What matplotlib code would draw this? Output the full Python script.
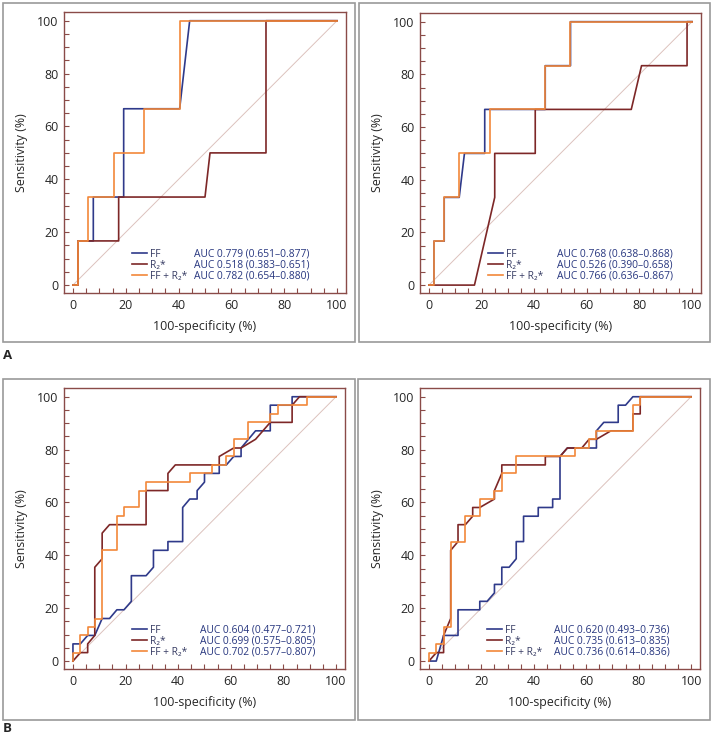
import matplotlib
matplotlib.use("Agg")
import matplotlib.pyplot as plt
from matplotlib.patches import Rectangle
from matplotlib.lines import Line2D
from matplotlib.ticker import MultipleLocator

plt.rcParams["font.family"] = ["Open Sans", "DejaVu Sans"]

series_names = ["FF", "R₂*", "FF + R₂*"]
series_colors = ["#2f3a8a", "#7d2727", "#f2883a"]

# panel A, left
a1_ff_x = [0, 1.9, 1.9, 7.7, 7.7, 19.2, 19.2, 40.4, 44.2, 100]
a1_ff_y = [0, 0, 16.7, 16.7, 33.3, 33.3, 66.7, 66.7, 100, 100]
a1_r2_x = [0, 1.9, 1.9, 17.3, 17.3, 50.0, 51.9, 73.1, 73.1, 100]
a1_r2_y = [0, 0, 16.7, 16.7, 33.3, 33.3, 50.0, 50.0, 100, 100]
a1_cb_x = [0, 1.9, 1.9, 5.8, 5.8, 15.4, 15.4, 26.9, 26.9, 40.4, 40.4, 100]
a1_cb_y = [0, 0, 16.7, 16.7, 33.3, 33.3, 50.0, 50.0, 66.7, 66.7, 100, 100]
a1_auc = ["AUC 0.779 (0.651–0.877)", "AUC 0.518 (0.383–0.651)", "AUC 0.782 (0.654–0.880)"]

# panel A, right
a2_ff_x = [0, 1.9, 1.9, 5.8, 5.8, 11.5, 13.5, 21.2, 21.2, 44.2, 44.2, 53.8, 53.8, 100]
a2_ff_y = [0, 0, 16.7, 16.7, 33.3, 33.3, 50.0, 50.0, 66.7, 66.7, 83.3, 83.3, 100, 100]
a2_r2_x = [0, 17.3, 25.0, 25.0, 40.4, 40.4, 76.9, 80.8, 98.1, 98.1, 100]
a2_r2_y = [0, 0, 33.3, 50.0, 50.0, 66.7, 66.7, 83.3, 83.3, 100, 100]
a2_cb_x = [0, 1.9, 1.9, 5.8, 5.8, 11.5, 11.5, 23.1, 23.1, 44.2, 44.2, 53.8, 53.8, 100]
a2_cb_y = [0, 0, 16.7, 16.7, 33.3, 33.3, 50.0, 50.0, 66.7, 66.7, 83.3, 83.3, 100, 100]
a2_auc = ["AUC 0.768 (0.638–0.868)", "AUC 0.526 (0.390–0.658)", "AUC 0.766 (0.636–0.867)"]

# panel B, left
b1_ff_x = [0, 0, 2.8, 5.6, 8.3, 11.1, 13.9, 16.7, 19.4, 22.2, 22.2, 27.8, 30.6, 30.6, 36.1, 36.1,
           41.7, 41.7, 44.4, 47.2, 47.2, 50.0, 50.0, 55.6, 55.6, 58.3, 61.1, 63.9, 63.9, 69.4,
           75.0, 75.0, 83.3, 83.3, 100]
b1_ff_y = [0, 6.5, 6.5, 9.7, 9.7, 16.1, 16.1, 19.4, 19.4, 22.6, 32.3, 32.3, 35.5, 41.9, 41.9, 45.2,
           45.2, 58.1, 61.3, 61.3, 64.5, 67.7, 71.0, 71.0, 74.2, 74.2, 77.4, 77.4, 80.6, 87.1,
           87.1, 96.8, 96.8, 100, 100]
b1_r2_x = [0, 2.8, 5.6, 5.6, 8.3, 8.3, 11.1, 11.1, 13.9, 27.8, 27.8, 36.1, 36.1, 38.9, 55.6, 55.6,
           61.1, 63.9, 69.4, 75.0, 83.3, 83.3, 86.1, 100]
b1_r2_y = [0, 3.2, 3.2, 6.5, 9.7, 35.5, 38.7, 48.4, 51.6, 51.6, 64.5, 64.5, 71.0, 74.2, 74.2, 77.4,
           80.6, 80.6, 83.9, 90.3, 90.3, 96.8, 100, 100]
b1_cb_x = [0, 0, 2.8, 2.8, 5.6, 5.6, 8.3, 8.3, 11.1, 11.1, 16.7, 16.7, 19.4, 19.4, 25.0, 25.0, 27.8,
           27.8, 44.4, 44.4, 52.8, 52.8, 58.3, 58.3, 61.1, 61.1, 66.7, 66.7, 75.0, 75.0, 77.8, 77.8,
           88.9, 88.9, 100]
b1_cb_y = [0, 3.2, 3.2, 9.7, 9.7, 12.9, 12.9, 16.1, 16.1, 41.9, 41.9, 54.8, 54.8, 58.1, 58.1, 64.5,
           64.5, 67.7, 67.7, 71.0, 71.0, 74.2, 74.2, 77.4, 77.4, 83.9, 83.9, 90.3, 90.3, 93.5, 93.5,
           96.8, 96.8, 100, 100]
b1_auc = ["AUC 0.604 (0.477–0.721)", "AUC 0.699 (0.575–0.805)", "AUC 0.702 (0.577–0.807)"]

# panel B, right
b2_ff_x = [0, 2.8, 5.6, 11.1, 11.1, 19.4, 19.4, 22.2, 25.0, 25.0, 27.8, 27.8, 30.6, 33.3, 33.3,
           36.1, 36.1, 41.7, 41.7, 47.2, 47.2, 50.0, 50.0, 52.8, 63.9, 63.9, 66.7, 72.2, 72.2,
           75.0, 77.8, 100]
b2_ff_y = [0, 0, 9.7, 9.7, 19.4, 19.4, 22.6, 22.6, 25.8, 29.0, 29.0, 35.5, 35.5, 38.7, 45.2,
           45.2, 54.8, 54.8, 58.1, 58.1, 61.3, 61.3, 77.4, 80.6, 80.6, 87.1, 90.3, 90.3, 96.8,
           96.8, 100, 100]
b2_r2_x = [0, 2.8, 5.6, 5.6, 8.3, 8.3, 11.1, 11.1, 13.9, 16.7, 16.7, 19.4, 25.0, 25.0, 27.8, 27.8,
           44.4, 44.4, 50.0, 52.8, 58.3, 61.1, 63.9, 69.4, 77.8, 77.8, 80.6, 80.6, 100]
b2_r2_y = [0, 3.2, 3.2, 9.7, 16.1, 41.9, 45.2, 51.6, 51.6, 54.8, 58.1, 58.1, 61.3, 64.5, 71.0, 74.2,
           74.2, 77.4, 77.4, 80.6, 80.6, 83.9, 83.9, 87.1, 87.1, 93.5, 93.5, 100, 100]
b2_cb_x = [0, 0, 2.8, 2.8, 5.6, 5.6, 8.3, 8.3, 13.9, 13.9, 19.4, 19.4, 25.0, 25.0, 27.8, 27.8, 33.3,
           33.3, 55.6, 55.6, 61.1, 61.1, 63.9, 63.9, 77.8, 77.8, 80.6, 80.6, 100]
b2_cb_y = [0, 3.2, 3.2, 6.5, 6.5, 12.9, 12.9, 45.2, 45.2, 54.8, 54.8, 61.3, 61.3, 64.5, 64.5, 71.0,
           71.0, 77.4, 77.4, 80.6, 80.6, 83.9, 83.9, 87.1, 87.1, 96.8, 96.8, 100, 100]
b2_auc = ["AUC 0.620 (0.493–0.736)", "AUC 0.735 (0.613–0.835)", "AUC 0.736 (0.614–0.836)"]

diag = [0, 100]

W, H = 714, 738
fig = plt.figure(figsize=(W / 100, H / 100), dpi=100)

spine_col = "#8a4b48"
text_col = "#262626"
auc_col = "#27367f"


def px_axes(left, top, right, bottom):
    return [left / W, 1 - bottom / H, (right - left) / W, (bottom - top) / H]


def draw_panel(rect, curves, aucs, auc_x):
    ax = fig.add_axes(rect)
    ax.plot(diag, diag, color="#dcc2bd", lw=0.7, zorder=1)
    for (xs, ys), c in zip(curves, series_colors):
        ax.plot(xs, ys, color=c, lw=1.2, zorder=2)
    ax.set_xlim(-3.4, 103.4)
    ax.set_ylim(-3.0, 103.3)
    for side in ["top", "right", "left", "bottom"]:
        ax.spines[side].set_color(spine_col)
        ax.spines[side].set_linewidth(1.0)
    ax.xaxis.set_major_locator(MultipleLocator(20))
    ax.yaxis.set_major_locator(MultipleLocator(20))
    ax.xaxis.set_minor_locator(MultipleLocator(5))
    ax.yaxis.set_minor_locator(MultipleLocator(5))
    ax.tick_params(which="both", direction="in", length=3.5, width=0.8, color=spine_col)
    ax.tick_params(axis="x", which="major", pad=4.0, labelsize=8.9, labelcolor=text_col)
    ax.tick_params(axis="y", which="major", pad=3.8, labelsize=8.9, labelcolor=text_col)
    ax.set_xlabel("100-specificity (%)", fontsize=8.9, color=text_col)
    ax.set_ylabel("Sensitivity (%)", fontsize=8.9, color=text_col)
    ax.xaxis.set_label_coords(0.5, -0.095)
    ax.yaxis.set_label_coords(-0.128, 0.5)

    handles = [Line2D([], [], color=c, lw=1.2) for c in series_colors]
    leg = ax.legend(handles, series_names, loc="lower left", bbox_to_anchor=(0.241, 0.04),
                    frameon=False, fontsize=7.4, handlelength=1.45, handletextpad=0.3,
                    labelspacing=0.0, borderpad=0, borderaxespad=0)
    for t in leg.get_texts():
        t.set_color("#353a62")
    ax.add_artist(leg)
    blank = [Line2D([], [], alpha=0) for _ in aucs]
    leg2 = ax.legend(blank, aucs, loc="lower left", bbox_to_anchor=(auc_x, 0.04),
                     frameon=False, fontsize=7.4, handlelength=0, handletextpad=0,
                     labelspacing=0.0, borderpad=0, borderaxespad=0)
    for t in leg2.get_texts():
        t.set_color(auc_col)
    return ax


draw_panel(px_axes(64, 12, 346, 293),
           [(a1_ff_x, a1_ff_y), (a1_r2_x, a1_r2_y), (a1_cb_x, a1_cb_y)], a1_auc, 0.462)
draw_panel(px_axes(420, 13, 701, 293),
           [(a2_ff_x, a2_ff_y), (a2_r2_x, a2_r2_y), (a2_cb_x, a2_cb_y)], a2_auc, 0.486)
draw_panel(px_axes(64, 388, 345, 669),
           [(b1_ff_x, b1_ff_y), (b1_r2_x, b1_r2_y), (b1_cb_x, b1_cb_y)], b1_auc, 0.484)
draw_panel(px_axes(420, 388, 700, 669),
           [(b2_ff_x, b2_ff_y), (b2_r2_x, b2_r2_y), (b2_cb_x, b2_cb_y)], b2_auc, 0.480)

# outer panel frames
for (l, t, r, b) in [(3, 3, 355, 342), (359, 3, 710, 342), (3, 379, 355, 720), (358, 379, 710, 720)]:
    fig.add_artist(Rectangle((l / W, 1 - b / H), (r - l) / W, (b - t) / H, transform=fig.transFigure,
                             fill=False, ec="#9a9a9a", lw=1.2))

fig.text(3 / W, 1 - 356 / H, "A", fontsize=9.5, weight="bold", color=text_col, va="center")
fig.text(3 / W, 1 - 729 / H, "B", fontsize=9.5, weight="bold", color=text_col, va="center")

fig.savefig("out.png", dpi=100)
